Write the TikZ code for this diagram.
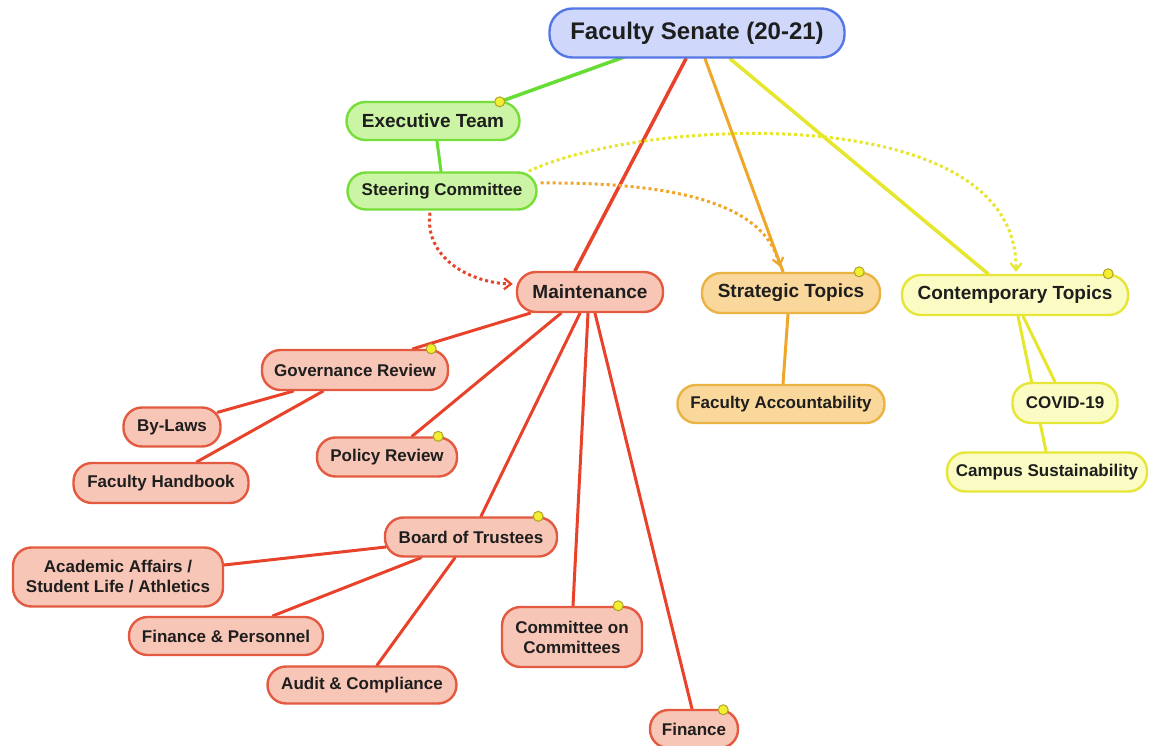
\documentclass[tikz,border=0pt]{standalone}
\usepackage{fontspec}
\setmainfont{Liberation Sans}
\usetikzlibrary{calc,backgrounds,arrows.meta}
\definecolor{txt}{HTML}{1E1E1E}
\definecolor{senfill}{HTML}{CFD8FA}
\definecolor{senline}{HTML}{5577E6}
\definecolor{grfill}{HTML}{CBF5A4}
\definecolor{grline}{HTML}{77DD3A}
\definecolor{grc}{HTML}{66DD33}
\definecolor{rdfill}{HTML}{F8C6B6}
\definecolor{rdline}{HTML}{E45A40}
\definecolor{rdc}{HTML}{E8432A}
\definecolor{orfill}{HTML}{FAD89C}
\definecolor{orline}{HTML}{E9B443}
\definecolor{orc}{HTML}{F0A628}
\definecolor{yefill}{HTML}{FBFBC4}
\definecolor{yeline}{HTML}{E6E638}
\definecolor{yec}{HTML}{E6E62C}
\definecolor{dotfill}{HTML}{F2EE30}
\definecolor{dotline}{HTML}{B0A428}
\tikzset{
  box/.style={draw, line width=2.4pt, inner sep=0pt, align=center, text=txt},
  sz/.style 2 args={minimum width=#1, minimum height=#2},
  senbox/.style={box, fill=senfill, draw=senline, rounded corners=23pt,
                 font=\fontsize{24}{28}\selectfont\bfseries},
  lvA/.style={box, rounded corners=19pt, font=\fontsize{19}{22}\selectfont\bfseries},
  lvB/.style={box, rounded corners=18.5pt, font=\fontsize{17}{20}\selectfont\bfseries},
  grbox/.style={fill=grfill, draw=grline},
  rdbox/.style={fill=rdfill, draw=rdline},
  orbox/.style={fill=orfill, draw=orline},
  yebox/.style={fill=yefill, draw=yeline},
  note/.style={circle, draw=dotline, fill=dotfill, line width=1pt, inner sep=0pt, minimum size=10pt},
  conn/.style={line width=3.5pt, line cap=round},
  subc/.style={line width=3pt, line cap=round},
  dotc/.style={line width=3pt, dash pattern=on 3pt off 3pt},
  tip/.style={-{Straight Barb[length=7pt,width=11pt,line width=2.2pt]}}
}
\begin{document}
\begin{tikzpicture}[x=1pt,y=-1pt]
\useasboundingbox (0,0) rectangle (1151,746);

% nodes
\node[senbox, sz={295pt}{49pt}] (sen) at (697,33) {Faculty Senate (20-21)};
\node[lvA, grbox, sz={173pt}{38pt}] (exe) at (433,121) {Executive Team};
\node[lvB, grbox, sz={189pt}{37pt}] (ste) at (442,191) {Steering Committee};
\node[lvA, rdbox, sz={146pt}{40pt}] (mai) at (590,292) {Maintenance};
\node[lvA, orbox, sz={178pt}{40pt}] (str) at (791,293) {Strategic Topics};
\node[lvA, yebox, sz={226pt}{40pt}] (con) at (1015,295) {Contemporary Topics};
\node[lvB, rdbox, sz={186pt}{40pt}] (gov) at (355,370) {Governance Review};
\node[lvB, rdbox, sz={97pt}{39pt}] (byl) at (172,427) {By-Laws};
\node[lvB, rdbox, sz={175pt}{40pt}] (hnd) at (161,483) {Faculty Handbook};
\node[lvB, rdbox, sz={140pt}{39pt}] (pol) at (387,457) {Policy Review};
\node[lvB, orbox, sz={207pt}{38pt}] (fac) at (781,404) {Faculty Accountability};
\node[lvB, yebox, sz={105pt}{40pt}] (cov) at (1065,403) {COVID-19};
\node[lvB, yebox, sz={200pt}{39pt}] (cam) at (1047,472) {Campus Sustainability};
\node[lvB, rdbox, sz={172pt}{39pt}] (boa) at (471,537) {Board of Trustees};
\node[lvB, rdbox, sz={210pt}{59pt}] (aca) at (118,577) {Academic Affairs /\\Student Life / Athletics};
\node[lvB, rdbox, sz={194pt}{38pt}] (fnp) at (226,636) {Finance \& Personnel};
\node[lvB, rdbox, sz={189pt}{37pt}] (aud) at (362,685) {Audit \& Compliance};
\node[lvB, rdbox, sz={140pt}{60pt}] (coc) at (572,637) {Committee on\\Committees};
\node[lvB, rdbox, sz={88pt}{38pt}] (fin) at (694,729) {Finance};

% note markers
\node[note] (exedot) at ($(exe.north east)+(-21,1)$) {};
\node[note] (strdot) at ($(str.north east)+(-22,0)$) {};
\node[note] (condot) at ($(con.north east)+(-21,0)$) {};
\node[note] (govdot) at ($(gov.north east)+(-18,0)$) {};
\node[note] (poldot) at ($(pol.north east)+(-20,0)$) {};
\node[note] (boadot) at ($(boa.north east)+(-20,0)$) {};
\node[note] (cocdot) at ($(coc.north east)+(-25,0)$) {};
\node[note] (findot) at ($(fin.north east)+(-16,1)$) {};

\begin{scope}[on background layer]
\fill[white] (0,0) rectangle (1151,746);
% green
\draw[conn, grc] ($(sen.south)+(-72,-2)$) -- (exedot.center);
\draw[subc, grc] ($(exe.south)+(4,0)$) -- ($(ste.north)+(-1,0)$);
% from senate
\draw[conn, rdc] ($(sen.south)+(-11,0)$) -- ($(mai.north)+(-15,0)$);
\draw[subc, orc] ($(sen.south)+(8,0)$) -- ($(str.north)+(-8,0)$);
\draw[conn, yec] ($(sen.south)+(33,0)$) -- ($(con.north)+(-27,0)$);
% dotted relations
\draw[dotc, yec, tip] ($(ste.north east)+(-9,0)$) .. controls (640,118) and (1018,98) .. ($(con.north)+(1,-2)$);
\draw[dotc, orc, tip] ($(ste.east)+(3,-8)$) .. controls (680,182) and (765,205) .. ($(str.north)+(-11,-5)$);
\draw[dotc, rdc, tip] ($(ste.south)+(-12,2)$) .. controls (424,258) and (470,283) .. ($(mai.west)+(-3,-8)$);
% maintenance
\draw[subc, rdc] ($(mai.south)+(-60,0)$) -- ($(gov.north)+(58,0)$);
\draw[subc, rdc] ($(mai.south)+(-29,0)$) -- ($(pol.north)+(25,0)$);
\draw[subc, rdc] ($(mai.south)+(-10,0)$) -- ($(boa.north)+(10,0)$);
\draw[subc, rdc] ($(mai.south)+(-2,0)$) -- ($(coc.north)+(1,0)$);
\draw[subc, rdc] ($(mai.south)+(5,0)$) -- ($(fin.north)+(-2,0)$);
% governance
\draw[subc, rdc] ($(gov.south)+(-62,0)$) -- ($(byl.north east)+(-4,6)$);
\draw[subc, rdc] ($(gov.south)+(-32,0)$) -- ($(hnd.north)+(36,0)$);
% board
\draw[subc, rdc] ($(boa.west)+(2,10)$) -- ($(aca.east)+(0,-12)$);
\draw[subc, rdc] ($(boa.south)+(-50,0)$) -- ($(fnp.north)+(47,0)$);
\draw[subc, rdc] ($(boa.south)+(-16,0)$) -- ($(aud.north)+(15,0)$);
% strategic
\draw[subc, orc] ($(str.south)+(-3,0)$) -- ($(fac.north)+(2,0)$);
% contemporary
\draw[subc, yec] ($(con.south)+(3,0)$) -- ($(cam.north)+(-1,0)$);
\draw[subc, yec] ($(con.south)+(8,0)$) -- ($(cov.north)+(-10,0)$);
\end{scope}
\end{tikzpicture}
\end{document}
